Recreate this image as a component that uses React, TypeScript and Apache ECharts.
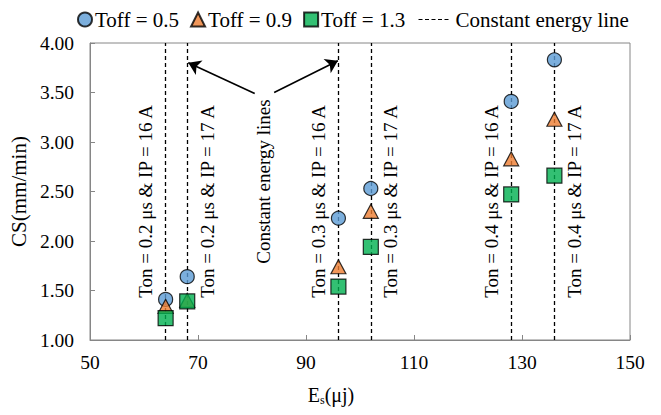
import { useEffect, useRef } from "react";
import * as echarts from "echarts";

// Discharge energy E_s (µJ) for each Ton / IP combination
const energy = [64, 68, 96, 102, 128, 136];
// Cutting speed CS (mm/min) for each pulse-off time
const csToff05 = [1.41, 1.64, 2.23, 2.53, 3.41, 3.83];
const csToff09 = [1.34, 1.4, 1.74, 2.3, 2.83, 3.23];
const csToff13 = [1.22, 1.39, 1.54, 1.94, 2.47, 2.66];

const conditionLabels = [
  "Ton = 0.2 μs & IP = 16 A",
  "Ton = 0.2 μs & IP = 17 A",
  "Ton = 0.3 μs & IP = 16 A",
  "Ton = 0.3 μs & IP = 17 A",
  "Ton = 0.4 μs & IP = 16 A",
  "Ton = 0.4 μs & IP = 17 A",
];
// which side of its energy line each condition label sits on
const labelSide = [-1, 1, -1, 1, -1, 1];

const seriesNames = ["Toff = 0.5", "Toff = 0.9", "Toff = 1.3"];
const lineName = "Constant energy line";

// arrows pointing from the note to two of the energy lines: [tail, head]
const arrowTails = [
  [80.5, 3.49],
  [84.1, 3.5],
];
const arrowHeads = [
  [68.2, 3.8],
  [95.9, 3.82],
];
const noteText = "Constant energy lines";
const notePos = [82.2, 2.6];
const labelCenterCS = 2.4;

const FONT = '"Liberation Serif", "Times New Roman", serif';
const AXIS_GREY = "#868686";

export default function App() {
  const ref = useRef<HTMLDivElement>(null);

  useEffect(() => {
    document.body.style.margin = "0";
    const chart = echarts.init(ref.current!, null, { renderer: "svg" });
    const pts = (ys: number[]) => energy.map((x, i) => [x, ys[i]]);

    const markerBase = {
      type: "scatter",
      z: 5,
      itemStyle: { borderColor: "#000", borderWidth: 1.2 },
    };

    chart.setOption({
      animation: false,
      backgroundColor: "#fff",
      textStyle: { fontFamily: FONT, color: "#000" },
      grid: {
        left: 86,
        right: 31,
        top: 43,
        bottom: 75,
        show: true,
        borderColor: AXIS_GREY,
        borderWidth: 1,
      },
      legend: [
        {
          data: seriesNames,
          left: 72,
          top: 4,
          itemWidth: 14,
          itemHeight: 14,
          itemGap: 11,
          textStyle: { fontFamily: FONT, fontSize: 21, color: "#000", padding: [0, 0, 0, -2] },
        },
        {
          data: [lineName],
          left: 413,
          top: 4,
          itemWidth: 32,
          itemHeight: 14,
          itemStyle: { opacity: 0 },
          lineStyle: { color: "#000", width: 1, type: [4, 2.5] },
          textStyle: { fontFamily: FONT, fontSize: 21, color: "#000" },
        },
      ],
      xAxis: {
        type: "value",
        min: 50,
        max: 150,
        interval: 20,
        name: "{e|E}{s|s}{e|(μj)}",
        nameLocation: "middle",
        nameGap: 44,
        nameTextStyle: {
          padding: [0, 58, 0, 0],
          rich: {
            e: { fontFamily: FONT, fontSize: 20, color: "#000" },
            s: { fontFamily: FONT, fontSize: 12, color: "#000", padding: [10, 0, 0, 0] },
          },
        },
        axisLine: { show: true, lineStyle: { color: AXIS_GREY, width: 1 } },
        axisTick: { show: true, inside: true, length: 5, lineStyle: { color: AXIS_GREY } },
        axisLabel: { fontFamily: FONT, fontSize: 19.5, color: "#000", margin: 12 },
        splitLine: { show: false },
      },
      yAxis: {
        type: "value",
        min: 1,
        max: 4,
        interval: 0.5,
        name: "CS(mm/min)",
        nameLocation: "middle",
        nameRotate: 90,
        nameGap: 46,
        nameTextStyle: { fontFamily: FONT, fontSize: 21, color: "#000" },
        axisLine: { show: true, lineStyle: { color: AXIS_GREY, width: 1 } },
        axisTick: { show: true, inside: true, length: 5, lineStyle: { color: AXIS_GREY } },
        axisLabel: {
          fontFamily: FONT,
          fontSize: 19.5,
          color: "#000",
          margin: 16,
          formatter: (v: number) => v.toFixed(2),
        },
        splitLine: { show: false },
      },
      series: [
        {
          name: lineName,
          type: "line",
          data: [],
          symbol: "none",
          color: "#000",
          lineStyle: { color: "#000", width: 1.3, type: [4, 3] },
          markLine: {
            silent: true,
            symbol: ["none", "none"],
            label: { show: false },
            lineStyle: { color: "#000", width: 1.3, type: [4, 3] },
            data: energy.map((x) => ({ xAxis: x })),
          },
        },
        {
          name: "arrows",
          type: "line",
          data: [],
          markLine: {
            silent: true,
            symbol: ["none", "arrow"],
            symbolSize: 12,
            label: { show: false },
            lineStyle: { color: "#000", width: 1.6, type: "solid" },
            data: arrowTails.map((t, i) => [{ coord: t }, { coord: arrowHeads[i] }]),
          },
        },
        {
          ...markerBase,
          name: seriesNames[0],
          symbol: "circle",
          symbolSize: 14,
          itemStyle: { ...markerBase.itemStyle, color: "#5b9bd5" },
          data: pts(csToff05),
        },
        {
          ...markerBase,
          name: seriesNames[1],
          symbol: "triangle",
          symbolSize: [15, 14],
          itemStyle: { ...markerBase.itemStyle, color: "#ed7d31" },
          data: pts(csToff09),
        },
        {
          ...markerBase,
          name: seriesNames[2],
          symbol: "rect",
          symbolSize: 15,
          itemStyle: { ...markerBase.itemStyle, color: "#00b050" },
          data: pts(csToff13),
        },
      ],
    });

    const toPx = (p: number[]) => chart.convertToPixel({ gridIndex: 0 }, p) as number[];
    const texts = energy.map((x, i) => {
      const [px, py] = toPx([x, labelCenterCS]);
      return {
        type: "text",
        x: px + labelSide[i] * 20,
        y: py,
        rotation: Math.PI / 2,
        z: 10,
        style: {
          text: conditionLabels[i],
          fontFamily: FONT,
          fontSize: 19,
          fill: "#000",
          align: "center",
          verticalAlign: "middle",
        },
      };
    });
    const [nx, ny] = toPx(notePos);
    texts.push({
      type: "text",
      x: nx,
      y: ny,
      rotation: Math.PI / 2,
      z: 10,
      style: {
        text: noteText,
        fontFamily: FONT,
        fontSize: 19,
        fill: "#000",
        align: "center",
        verticalAlign: "middle",
      },
    });
    chart.setOption({ graphic: texts });

    return () => chart.dispose();
  }, []);

  return <div ref={ref} style={{ width: 661, height: 415 }} />;
}
